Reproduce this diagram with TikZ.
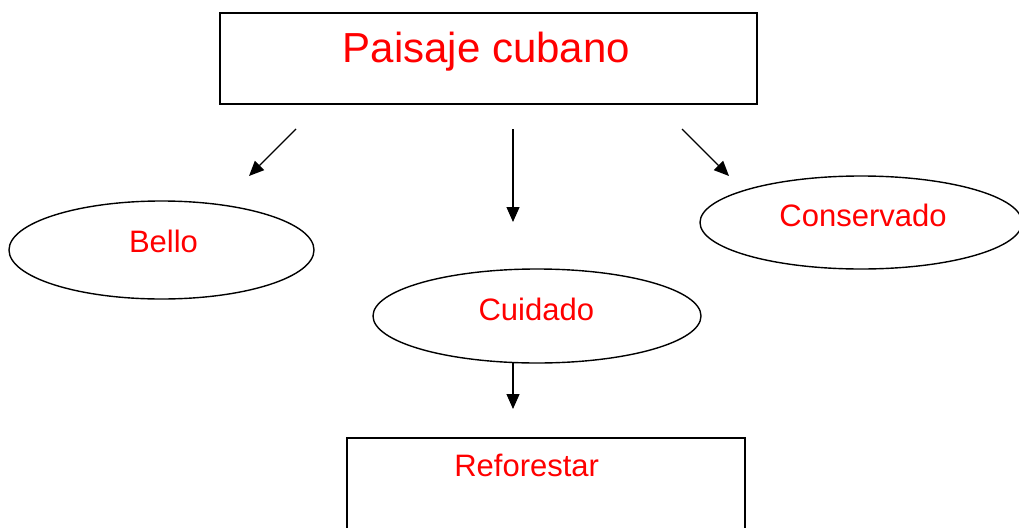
\documentclass[tikz,border=0pt]{standalone}
\usepackage{fontspec}
\setmainfont{Liberation Sans}
\usetikzlibrary{arrows.meta,shapes.geometric}
\begin{document}
\begin{tikzpicture}[x=1pt,y=-1pt,
    caja/.style={draw, rectangle, line width=1.6pt},
    elipse/.style={draw, ellipse, line width=1.4pt},
    texto/.style={text=red, anchor=base, font=\fontsize{31}{37}\selectfont},
    flecha/.style={-{Triangle[length=15pt,width=13pt]}, line width=1.3pt}]
            \useasboundingbox (0,0) rectangle (1019,527);
            \clip (0,0) rectangle (1019,527);
            \node[caja, minimum width=537pt, minimum height=91pt] (paisaje) at (488.5,58.5) {};
            \node[texto, font=\fontsize{42}{50}\selectfont] (tpaisaje) at (486.5,63) {Paisaje cubano};
            \node[elipse, minimum width=305pt, minimum height=98pt] (bello) at (161.5,250) {};
            \node[texto] (tbello) at (163.5,252.7) {Bello};
            \node[elipse, minimum width=322pt, minimum height=93pt] (conservado) at (861,222.5) {};
            \node[texto] (tconservado) at (863,226.7) {Conservado};
            \node[elipse, minimum width=328pt, minimum height=94pt] (cuidado) at (537,316) {};
            \node[texto] (tcuidado) at (536.3,320) {Cuidado};
            \node[caja, minimum width=398pt, minimum height=120pt] (reforestar) at (546,498) {};
            \node[texto] (treforestar) at (526.7,476.7) {Reforestar};
            \coordinate (a1) at (296,129);
            \coordinate (b1) at (249,176);
            \coordinate (a2) at (513,129);
            \coordinate (b2) at (513,222);
            \coordinate (a3) at (682,129);
            \coordinate (b3) at (729,176);
            \coordinate (a4) at (513,363);
            \coordinate (b4) at (513,409);
            \draw[flecha] (a1) -- (b1);
            \draw[flecha] (a2) -- (b2);
            \draw[flecha] (a3) -- (b3);
            \draw[flecha] (a4) -- (b4);

        \end{tikzpicture}
\end{document}
